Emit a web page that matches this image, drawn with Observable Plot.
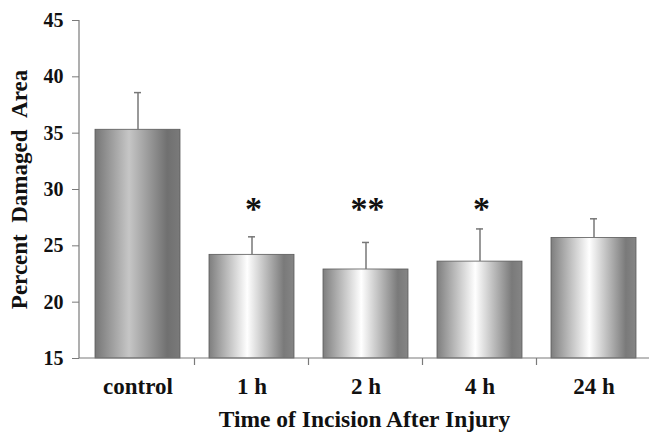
<!DOCTYPE html>
<html>
<head>
<meta charset="utf-8">
<script src="https://cdn.jsdelivr.net/npm/d3@7"></script>
<script src="https://cdn.jsdelivr.net/npm/@observablehq/plot@0.6"></script>
<style>
  html, body { margin: 0; padding: 0; background: #fff; }
  #chart svg { display: block; overflow: visible; }
</style>
</head>
<body>
<div id="chart"></div>
<script>
const categories = ["control", "1 h", "2 h", "4 h", "24 h"];
const means = [35.3, 24.2, 22.9, 23.6, 25.7];
const errors = [3.3, 1.6, 2.4, 2.9, 1.7];
const significance = ["", "*", "**", "*", ""];
const yTicks = [15, 20, 25, 30, 35, 40, 45];
const yLabel = "Percent\u00a0\u00a0Damaged\u00a0\u00a0Area";
const xLabel = "Time of Incision After Injury";

const data = categories.map((c, i) => ({
  cat: c, mean: means[i], err: errors[i], top: means[i] + errors[i], sig: significance[i]
}));
const yMin = yTicks[0], yMax = yTicks[yTicks.length - 1];
const sigLevel = 28.3;

const font = "'Liberation Serif', 'Times New Roman', serif";
const ns = "http://www.w3.org/2000/svg";

function gradientDefs() {
  const defs = document.createElementNS(ns, "defs");
  const make = (id, stops) => {
    const g = document.createElementNS(ns, "linearGradient");
    g.setAttribute("id", id);
    g.setAttribute("x1", "0"); g.setAttribute("x2", "1");
    g.setAttribute("y1", "0"); g.setAttribute("y2", "0");
    for (const [o, c] of stops) {
      const s = document.createElementNS(ns, "stop");
      s.setAttribute("offset", o); s.setAttribute("stop-color", c);
      g.appendChild(s);
    }
    defs.appendChild(g);
  };
  make("gCtrl", [["0", "#767676"], ["0.4", "#c6c6c6"], ["0.85", "#707070"], ["1", "#7a7a7a"]]);
  make("gTrt", [["0", "#7e7e7e"], ["0.45", "#ffffff"], ["0.88", "#7a7a7a"], ["1", "#858585"]]);
  return defs;
}

function axisLines(index, scales, values, dimensions) {
  const g = document.createElementNS(ns, "g");
  g.setAttribute("stroke", "#7a7a7a");
  g.setAttribute("stroke-width", "1.2");
  const {width, height, marginTop, marginBottom} = dimensions;
  const x = scales.x;
  const yb = height - marginBottom;
  const line = (x1, y1, x2, y2) => {
    const l = document.createElementNS(ns, "line");
    l.setAttribute("x1", x1); l.setAttribute("y1", y1);
    l.setAttribute("x2", x2); l.setAttribute("y2", y2);
    g.appendChild(l);
  };
  const [r0, r1] = x.range();
  line(r0, marginTop, r0, yb);
  line(r0, yb, Math.max(r1, width), yb);
  const step = x.step(), bw = x.bandwidth();
  categories.forEach((c, i) => {
    const bx = x(c) - (step - bw) / 2;
    if (i > 0) line(bx, yb, bx, yb + 7);
  });
  return g;
}

const chart = Plot.plot({
  width: 649,
  height: 433,
  marginTop: 20,
  marginBottom: 75,
  marginLeft: 79,
  marginRight: 0,
  style: {fontFamily: font, background: "#fff", color: "#111"},
  x: {domain: categories, range: [79, 652], paddingInner: 0.258, paddingOuter: 0.129},
  y: {domain: [yMin, yMax]},
  marks: [
    gradientDefs,
    Plot.barY(data, {filter: d => d.cat === "control", x: "cat", y1: () => yMin, y2: "mean",
      fill: "url(#gCtrl)", stroke: "#5a5a5a", strokeWidth: 0.8}),
    Plot.barY(data, {filter: d => d.cat !== "control", x: "cat", y1: () => yMin, y2: "mean",
      fill: "url(#gTrt)", stroke: "#5a5a5a", strokeWidth: 0.8}),
    Plot.ruleX(data, {x: "cat", y1: "mean", y2: "top", stroke: "#777", strokeWidth: 1.5}),
    Plot.tickY(data, {x: "cat", y: "top", stroke: "#777", strokeWidth: 1.5, insetLeft: 39, insetRight: 39}),
    Plot.text(data, {x: "cat", y: () => sigLevel, text: "sig", fontSize: 34, fontWeight: "bold",
      fill: "#111", fontFamily: font, dx: 1.5, ariaLabel: "significance"}),
    axisLines,
    Plot.axisY({ticks: yTicks, tickSize: 7, tickPadding: 9, fontSize: 20, fontWeight: "bold",
      stroke: "#7a7a7a", fill: "#111", label: yLabel, labelAnchor: "center", labelArrow: "none",
      labelOffset: 69}),
    Plot.axisX({tickSize: 0, tickPadding: 19, fontSize: 23, fontWeight: "bold", fill: "#111",
      label: xLabel, labelAnchor: "center", labelArrow: "none", labelOffset: 68})
  ]
});

const yl = chart.querySelector('g[aria-label="y-axis label"]');
if (yl) yl.setAttribute("font-size", "23");
const xl = chart.querySelector('g[aria-label="x-axis label"]');
if (xl) xl.setAttribute("font-size", "23.5");
const sg = chart.querySelector('g[aria-label="significance"]');
if (sg) sg.setAttribute("letter-spacing", "3");

document.getElementById("chart").appendChild(chart);
</script>
</body>
</html>
